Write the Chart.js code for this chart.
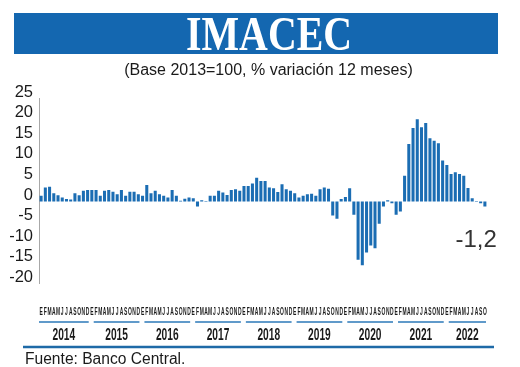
<!DOCTYPE html>
<html>
<head>
<meta charset="utf-8">
<script src="https://cdn.jsdelivr.net/npm/chart.js@4.4.1/dist/chart.umd.min.js"></script>
<style>
  html, body { margin: 0; padding: 0; background: #fff; }
  #wrap { position: relative; width: 520px; height: 367px; overflow: hidden; }
  canvas { position: absolute; left: 0; top: 0; }
  .banner { position: absolute; left: 14px; top: 13px; width: 484px; height: 41px; background: #1467b0; }
  .title { position: absolute; left: 0; top: 9.8px; width: 538px; text-align: center;
           font: bold 48px/48px "Liberation Serif", serif; color: #fff; white-space: nowrap; }
  .title span { display: inline-block; transform: scaleX(0.83); }
  .sub { position: absolute; left: 0; top: 61.5px; width: 537px; text-align: center;
         font: 16px/16px "Liberation Sans", Arial, sans-serif; color: #1a1a1a; white-space: nowrap; }
  .src { position: absolute; left: 25px; top: 350.8px;
         font: 15.6px/15.6px "Liberation Sans", Arial, sans-serif; color: #1a1a1a; white-space: nowrap; }
</style>
</head>
<body>
<div id="wrap">
  <canvas id="c" width="520" height="367"></canvas>
  <div class="banner"></div>
  <div class="title"><span>IMACEC</span></div>
  <div class="sub">(Base 2013=100, % variación 12 meses)</div>
  <div class="src">Fuente: Banco Central.</div>
</div>
<script>
// ---- data ----
const years = ['2014','2015','2016','2017','2018','2019','2020','2021','2022'];
const monthLetters = ['E','F','M','A','M','J','J','A','S','O','N','D'];
const monthsPerYear = [12,12,12,12,12,12,12,12,10];
const yTicks = [25,20,15,10,5,0,-5,-10,-15,-20];

const v2014 = [1.4, 3.4, 3.6, 2.0, 1.5, 1.0, 0.6, 0.5, 2.0, 1.5, 2.6, 2.8];
const v2015 = [2.8, 2.8, 1.4, 2.6, 2.8, 2.4, 1.8, 2.8, 1.4, 2.4, 2.4, 1.8];
const v2016 = [1.4, 4.0, 2.0, 2.6, 1.8, 1.4, 1.0, 2.8, 1.4, 0.2, 0.7, 1.0];
const v2017 = [0.8, -1.2, 0.3, -0.1, 1.4, 1.4, 2.6, 2.2, 1.6, 2.8, 3.0, 2.6];
const v2018 = [3.8, 3.8, 4.4, 5.8, 5.0, 5.0, 3.4, 3.2, 2.3, 4.2, 3.0, 2.6];
const v2019 = [2.0, 1.0, 1.4, 1.8, 1.9, 1.4, 3.0, 3.4, 3.1, -3.4, -4.2, 0.6];
const v2020 = [1.1, 3.2, -3.2, -14.2, -15.5, -12.4, -10.7, -11.4, -5.4, -1.2, 0.3, -0.4];
const v2021 = [-3.2, -2.4, 6.3, 14.0, 17.9, 20.0, 18.1, 19.1, 15.4, 14.8, 14.2, 10.0];
const v2022 = [8.9, 6.7, 7.1, 6.7, 6.3, 3.3, 0.8, 0.1, -0.4, -1.2];

const values = [].concat(v2014, v2015, v2016, v2017, v2018, v2019, v2020, v2021, v2022);
const categories = [];
years.forEach((yr, k) => {
  for (let m = 0; m < monthsPerYear[k]; m++) categories.push(monthLetters[m]);
});

// ---- styles ----
const BAR = '#1b6db3';
const LINE = '#2b79b9';
const TEXT = '#1a1a1a';

const decor = {
  id: 'decor',
  afterDraw(chart) {
    const ctx = chart.ctx;
    const xs = chart.scales.x, ys = chart.scales.y;
    const n = categories.length;
    const half = (xs.getPixelForValue(1) - xs.getPixelForValue(0)) / 2;
    ctx.save();
    // month letters
    ctx.fillStyle = TEXT;
    ctx.font = 'bold 11px "Liberation Sans", Arial, sans-serif';
    ctx.textAlign = 'center';
    ctx.textBaseline = 'alphabetic';
    for (let i = 0; i < n; i++) {
      const px = xs.getPixelForValue(i);
      ctx.save();
      ctx.translate(px, 315);
      ctx.scale(0.45, 1);
      ctx.fillText(categories[i], 0, 0);
      ctx.restore();
    }
    // year lines + labels
    let s = 0;
    years.forEach((yr, k) => {
      const e = s + monthsPerYear[k] - 1;
      const left = xs.getPixelForValue(s) - half + (k ? 4 : 0);
      const right = xs.getPixelForValue(e) + half - 1;
      ctx.strokeStyle = LINE;
      ctx.lineWidth = 1.5;
      ctx.beginPath();
      ctx.moveTo(left, 322);
      ctx.lineTo(right, 322);
      ctx.stroke();
      ctx.save();
      ctx.translate((left + right) / 2, 340);
      ctx.scale(0.6, 1);
      ctx.font = 'bold 17px "Liberation Sans", Arial, sans-serif';
      ctx.fillStyle = TEXT;
      ctx.textAlign = 'center';
      ctx.fillText(yr, 0, 0);
      ctx.restore();
      s = e + 1;
    });
    // bottom rule
    ctx.strokeStyle = '#1e6aa7';
    ctx.lineWidth = 2.5;
    ctx.beginPath();
    ctx.moveTo(23, 347);
    ctx.lineTo(494, 347);
    ctx.stroke();
    // last value label
    const last = values[n - 1];
    const lx = xs.getPixelForValue(n - 1);
    const ly = ys.getPixelForValue(last);
    ctx.fillStyle = '#333';
    ctx.font = '24px "Liberation Sans", Arial, sans-serif';
    ctx.textAlign = 'right';
    ctx.fillText(String(last).replace('.', ','), lx + 12, ly + 41);
    ctx.restore();
  }
};

new Chart(document.getElementById('c'), {
  type: 'bar',
  data: {
    labels: categories,
    datasets: [{
      data: values,
      backgroundColor: BAR,
      borderWidth: 0,
      barPercentage: 0.72,
      categoryPercentage: 1.0
    }]
  },
  options: {
    responsive: false,
    animation: false,
    devicePixelRatio: 1,
    layout: { padding: { top: 98.8, bottom: 83.3, left: 0, right: 33 } },
    plugins: { legend: { display: false }, tooltip: { enabled: false }, title: { display: false } },
    scales: {
      x: { display: false, offset: true },
      y: {
        min: -20, max: 25,
        afterBuildTicks(scale) { scale.ticks = yTicks.map(v => ({ value: v })); },
        afterFit(scale) { scale.width = 39; },
        grid: { display: false, drawTicks: false },
        border: { display: true, color: '#a8a8a8', width: 1 },
        ticks: {
          autoSkip: false,
          padding: 6,
          labelOffset: -6.5,
          color: TEXT,
          font: { family: '"Liberation Sans", Arial, sans-serif', size: 16.5 }
        }
      }
    }
  },
  plugins: [decor]
});
</script>
</body>
</html>
